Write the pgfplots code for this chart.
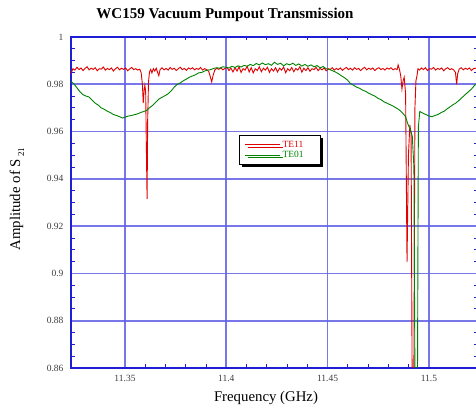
\documentclass[border=0pt]{standalone}
\usepackage{pgfplots}
\pgfplotsset{compat=1.18}
\usepackage{fontspec}
\setmainfont{Liberation Serif}
\usetikzlibrary{shadows}
\definecolor{gridblue}{RGB}{95,95,230}
\definecolor{axblue}{RGB}{30,30,215}
\definecolor{tered}{RGB}{225,0,0}
\definecolor{tegreen}{RGB}{0,130,0}
\definecolor{ticktxt}{RGB}{60,60,60}
\begin{document}
\begin{tikzpicture}
\useasboundingbox (0pt,0pt) rectangle (476pt,411pt);
\begin{axis}[
  at={(71pt,43pt)}, anchor=south west,
  scale only axis, width=406pt, height=331pt,
  xmin=11.32335, xmax=11.52374, ymin=0.86, ymax=1,
  xtick={11.35,11.4,11.45,11.5},
  ytick={0.86,0.88,0.9,0.92,0.94,0.96,0.98,1},
  minor x tick num=4, minor y tick num=3,
  grid=major,
  major grid style={gridblue, line width=1.7pt, opacity=0.85},
  axis line style={axblue, line width=1.7pt},
  tick style={axblue, line width=0.9pt},
  minor tick length=3.5pt, major tick length=0pt,
  tick align=inside, tick pos=both,
  /pgf/number format/assume math mode=true,
  /pgf/number format/.cd, fixed, precision=2, /pgfplots/.cd,
  ticklabel style={font=\fontsize{9.5}{11}\selectfont, text=ticktxt},
  yticklabel style={xshift=-4pt},
  xticklabel style={yshift=-4pt},
  legend style={at={(axis cs:11.4063,0.9586)}, anchor=north west, draw=black, line width=1pt,
     fill=white, drop shadow={shadow xshift=2.5pt, shadow yshift=-2.5pt, fill=black, opacity=1},
     font=\fontsize{9.5}{9}\selectfont, inner xsep=5pt, inner ysep=3.5pt, row sep=-1.5pt},
  legend cell align=left,
  legend image code/.code={\draw[#1, line width=1pt] (0pt,0pt) -- (35pt,0pt);},
]
\addplot[tered, line width=0.9pt] coordinates {
(11.3233,0.9845)(11.3243,0.9866)(11.3253,0.9860)(11.3263,0.9872)(11.3273,0.9862)(11.3283,0.9869)
(11.3293,0.9858)(11.3303,0.9867)(11.3313,0.9874)(11.3323,0.9861)(11.3333,0.9868)(11.3343,0.9863)
(11.3353,0.9870)(11.3363,0.9857)(11.3373,0.9866)(11.3383,0.9864)(11.3393,0.9873)(11.3403,0.9860)
(11.3413,0.9867)(11.3423,0.9862)(11.3433,0.9869)(11.3443,0.9856)(11.3453,0.9866)(11.3463,0.9872)
(11.3473,0.9861)(11.3483,0.9868)(11.3493,0.9863)(11.3503,0.9869)(11.3513,0.9857)(11.3523,0.9865)
(11.3533,0.9871)(11.3543,0.9862)(11.3553,0.9866)(11.3563,0.9860)(11.3573,0.9864)(11.3580,0.9848)
(11.3586,0.9800)(11.3590,0.9720)(11.3594,0.9770)(11.3598,0.9795)(11.3602,0.9770)(11.3606,0.9500)
(11.3609,0.9315)(11.3612,0.9650)(11.3616,0.9810)(11.3621,0.9852)(11.3627,0.9863)(11.3633,0.9848)
(11.3640,0.9866)(11.3647,0.9856)(11.3654,0.9868)(11.3661,0.9850)(11.3667,0.9836)(11.3673,0.9862)
(11.3683,0.9870)(11.3693,0.9861)(11.3703,0.9867)(11.3713,0.9860)(11.3723,0.9871)(11.3733,0.9863)
(11.3743,0.9868)(11.3753,0.9858)(11.3763,0.9866)(11.3773,0.9872)(11.3783,0.9862)(11.3793,0.9867)
(11.3803,0.9859)(11.3813,0.9869)(11.3823,0.9864)(11.3833,0.9870)(11.3843,0.9861)(11.3853,0.9867)
(11.3863,0.9863)(11.3873,0.9871)(11.3883,0.9860)(11.3893,0.9866)(11.3903,0.9862)(11.3913,0.9855)
(11.3921,0.9832)(11.3928,0.9810)(11.3935,0.9838)(11.3943,0.9860)(11.3953,0.9868)(11.3963,0.9863)
(11.3973,0.9870)(11.3983,0.9861)(11.3993,0.9867)(11.4003,0.9872)(11.4013,0.9858)(11.4023,0.9868)
(11.4033,0.9852)(11.4043,0.9870)(11.4053,0.9856)(11.4063,0.9874)(11.4073,0.9850)(11.4083,0.9866)
(11.4093,0.9860)(11.4103,0.9876)(11.4113,0.9852)(11.4123,0.9870)(11.4133,0.9848)(11.4143,0.9866)
(11.4153,0.9858)(11.4163,0.9874)(11.4173,0.9853)(11.4183,0.9868)(11.4193,0.9860)(11.4203,0.9872)
(11.4213,0.9850)(11.4223,0.9866)(11.4233,0.9856)(11.4243,0.9870)(11.4253,0.9852)(11.4263,0.9868)
(11.4273,0.9860)(11.4283,0.9873)(11.4293,0.9849)(11.4303,0.9866)(11.4313,0.9857)(11.4323,0.9871)
(11.4333,0.9853)(11.4343,0.9867)(11.4353,0.9860)(11.4363,0.9874)(11.4373,0.9851)(11.4383,0.9868)
(11.4393,0.9858)(11.4403,0.9870)(11.4413,0.9855)(11.4423,0.9866)(11.4433,0.9862)(11.4443,0.9872)
(11.4453,0.9858)(11.4463,0.9867)(11.4473,0.9861)(11.4483,0.9869)(11.4493,0.9857)(11.4503,0.9866)
(11.4513,0.9863)(11.4523,0.9870)(11.4533,0.9860)(11.4543,0.9867)(11.4553,0.9862)(11.4563,0.9869)
(11.4573,0.9859)(11.4583,0.9866)(11.4593,0.9871)(11.4603,0.9862)(11.4613,0.9868)(11.4623,0.9860)
(11.4633,0.9870)(11.4643,0.9863)(11.4653,0.9867)(11.4663,0.9858)(11.4673,0.9866)(11.4683,0.9872)
(11.4693,0.9861)(11.4703,0.9868)(11.4713,0.9863)(11.4723,0.9869)(11.4733,0.9858)(11.4743,0.9866)
(11.4753,0.9870)(11.4763,0.9862)(11.4773,0.9867)(11.4783,0.9860)(11.4793,0.9869)(11.4803,0.9864)
(11.4813,0.9870)(11.4823,0.9861)(11.4833,0.9866)(11.4843,0.9862)(11.4848,0.9882)(11.4855,0.9862)
(11.4861,0.9835)(11.4867,0.9780)(11.4872,0.9812)(11.4878,0.9830)(11.4885,0.9760)(11.4892,0.9048)
(11.4899,0.9500)(11.4906,0.9628)(11.4912,0.9590)(11.4918,0.8400)(11.4925,0.8400)(11.4931,0.9700)
(11.4936,0.9815)(11.4941,0.9835)(11.4946,0.9866)(11.4953,0.9860)(11.4963,0.9869)(11.4973,0.9862)(11.4983,0.9870)
(11.4993,0.9858)(11.5003,0.9866)(11.5013,0.9864)(11.5023,0.9871)(11.5033,0.9860)(11.5043,0.9867)
(11.5053,0.9863)(11.5063,0.9869)(11.5073,0.9857)(11.5083,0.9866)(11.5093,0.9870)(11.5103,0.9862)
(11.5113,0.9866)(11.5123,0.9860)(11.5131,0.9850)(11.5137,0.9800)(11.5142,0.9845)(11.5150,0.9865)
(11.5160,0.9870)(11.5170,0.9861)(11.5180,0.9868)(11.5190,0.9863)(11.5200,0.9869)(11.5210,0.9858)
(11.5220,0.9866)(11.5230,0.9868)(11.5240,0.9862)
};
\addlegendentry{\textcolor{tered}{TE11}\hspace*{10pt}}
\addplot[tegreen, line width=0.9pt] coordinates {
(11.3233,0.9812)(11.3248,0.9802)(11.3263,0.9785)(11.3278,0.9768)(11.3293,0.9756)(11.3308,0.9750)
(11.3323,0.9746)(11.3338,0.9733)(11.3353,0.9720)(11.3368,0.9712)(11.3383,0.9700)(11.3398,0.9694)
(11.3413,0.9686)(11.3428,0.9680)(11.3443,0.9672)(11.3458,0.9668)(11.3473,0.9663)(11.3488,0.9657)
(11.3503,0.9662)(11.3518,0.9666)(11.3533,0.9668)(11.3548,0.9672)(11.3563,0.9675)(11.3578,0.9681)
(11.3593,0.9685)(11.3608,0.9690)(11.3623,0.9702)(11.3638,0.9712)(11.3653,0.9725)(11.3668,0.9738)
(11.3683,0.9745)(11.3698,0.9752)(11.3713,0.9760)(11.3728,0.9772)(11.3743,0.9788)(11.3758,0.9800)
(11.3773,0.9806)(11.3788,0.9815)(11.3803,0.9822)(11.3818,0.9830)(11.3833,0.9835)(11.3848,0.9840)
(11.3863,0.9848)(11.3878,0.9850)(11.3893,0.9856)(11.3908,0.9860)(11.3923,0.9862)(11.3938,0.9867)
(11.3953,0.9870)(11.3968,0.9868)(11.3983,0.9874)(11.3998,0.9872)(11.4013,0.9869)(11.4028,0.9876)
(11.4043,0.9871)(11.4058,0.9878)(11.4073,0.9873)(11.4088,0.9880)(11.4103,0.9876)(11.4118,0.9884)
(11.4133,0.9879)(11.4148,0.9888)(11.4163,0.9882)(11.4178,0.9890)(11.4193,0.9883)(11.4208,0.9887)
(11.4223,0.9880)(11.4238,0.9893)(11.4253,0.9884)(11.4268,0.9889)(11.4283,0.9878)(11.4298,0.9887)
(11.4313,0.9882)(11.4328,0.9889)(11.4343,0.9880)(11.4358,0.9886)(11.4373,0.9877)(11.4388,0.9884)
(11.4403,0.9876)(11.4418,0.9882)(11.4433,0.9874)(11.4448,0.9879)(11.4463,0.9870)(11.4478,0.9875)
(11.4493,0.9866)(11.4508,0.9863)(11.4523,0.9858)(11.4538,0.9852)(11.4553,0.9845)(11.4568,0.9836)
(11.4583,0.9828)(11.4598,0.9818)(11.4613,0.9803)(11.4628,0.9796)(11.4643,0.9788)(11.4658,0.9783)
(11.4673,0.9775)(11.4688,0.9770)(11.4703,0.9762)(11.4718,0.9756)(11.4733,0.9750)(11.4748,0.9741)
(11.4763,0.9735)(11.4778,0.9726)(11.4793,0.9720)(11.4808,0.9714)(11.4823,0.9708)(11.4838,0.9700)
(11.4853,0.9692)(11.4868,0.9680)(11.4883,0.9666)(11.4898,0.9628)(11.4910,0.9605)(11.4918,0.9580)
(11.4926,0.9450)(11.4932,0.8400)(11.4943,0.8400)(11.4948,0.9620)(11.4955,0.9685)(11.4970,0.9678)
(11.4985,0.9672)(11.5000,0.9666)(11.5015,0.9663)(11.5030,0.9668)(11.5045,0.9672)(11.5060,0.9680)
(11.5075,0.9686)(11.5090,0.9696)(11.5105,0.9705)(11.5120,0.9714)(11.5135,0.9722)(11.5150,0.9733)
(11.5165,0.9745)(11.5180,0.9757)(11.5195,0.9768)(11.5210,0.9780)(11.5225,0.9795)(11.5240,0.9805)
};
\addlegendentry{\textcolor{tegreen}{TE01}\hspace*{10pt}}
\end{axis}
\node[font=\fontsize{15}{17}\selectfont\bfseries] at (225pt,396pt) {WC159 Vacuum Pumpout Transmission};
\node[font=\fontsize{14.8}{17}\selectfont] at (266pt,13pt) {Frequency (GHz)};
\node[font=\fontsize{14.8}{17}\selectfont, rotate=90] at (17pt,212pt) {Amplitude of S\raisebox{-0.6ex}{\,\fontsize{9}{10}\selectfont 21}};
\end{tikzpicture}
\end{document}
